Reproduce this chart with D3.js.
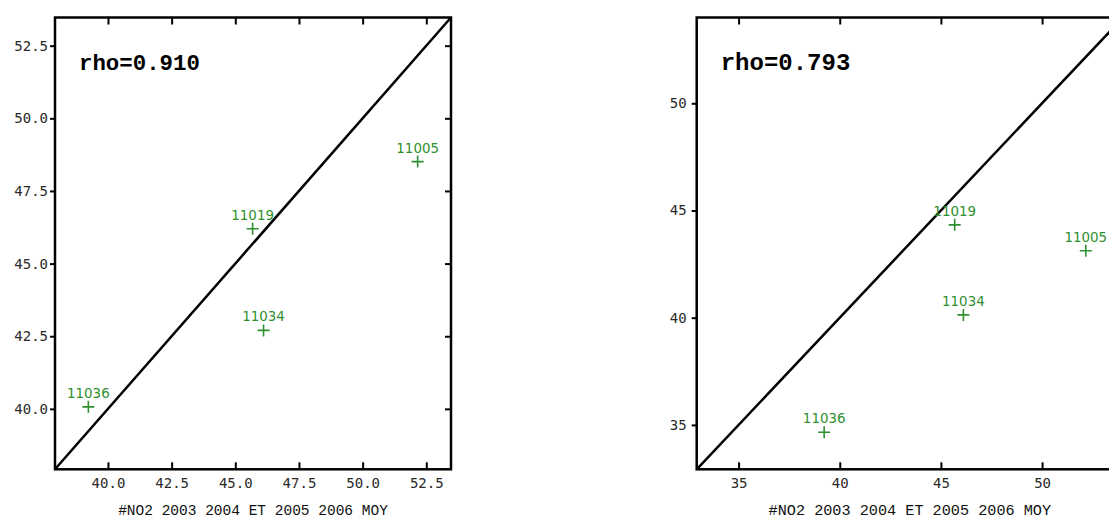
<!DOCTYPE html>
<html>
<head>
<meta charset="utf-8">
<script src="https://cdn.jsdelivr.net/npm/d3@7"></script>
<style>
  html, body { margin: 0; padding: 0; background: #fff; }
  svg { display: block; }
</style>
</head>
<body>
<svg id="chart" width="1109" height="520"></svg>
<script>
// ---- data ----
const stations = ["11036", "11034", "11019", "11005"];
const obsMean = [39.23, 46.11, 45.68, 52.16];          // x: #NO2 2003 2004 ET 2005 2006 MOY
const modelLeft = [40.07, 42.70, 46.20, 48.51];        // left panel y
const modelRight = [34.66, 40.13, 44.33, 43.12];       // right panel y
const rhoLabels = ["rho=0.910", "rho=0.793"];
const xTitle = "#NO2 2003 2004 ET 2005 2006 MOY";
const ticksLeft = [40, 42.5, 45, 47.5, 50, 52.5];
const ticksRight = [35, 40, 45, 50];
const domainLeft = [37.92, 53.47];
const domainRight = [32.93, 54.0];

const svg = d3.select("#chart");
const green = "#2f8f2f";

const panels = [
  { x0: 55, x1: 451, y0: 17.5, y1: 469.3, domain: domainLeft, ticks: ticksLeft, fmt: d3.format(".1f"),
    yv: modelLeft, rho: rhoLabels[0], rhoSize: 22.4, titleSize: 14.5, leftPad: 2 },
  { x0: 696.7, x1: 1123, y0: 17.5, y1: 469.3, domain: domainRight, ticks: ticksRight, fmt: d3.format("d"),
    yv: modelRight, rho: rhoLabels[1], rhoSize: 24, titleSize: 15.2, leftPad: 5 }
];

panels.forEach(p => {
  const x = d3.scaleLinear().domain(p.domain).range([p.x0, p.x1]);
  const y = d3.scaleLinear().domain(p.domain).range([p.y1, p.y0]);
  const g = svg.append("g");

  const styleAxis = sel => {
    sel.select(".domain").remove();
    sel.selectAll(".tick line").attr("stroke", "#000").attr("stroke-width", 2);
    sel.selectAll(".tick text")
      .attr("fill", "#2a2a2a")
      .style("font-family", "'DejaVu Sans Mono', monospace")
      .style("font-size", "14px");
  };

  // bottom axis (inward ticks, labels)
  g.append("g").attr("transform", `translate(0,${p.y1})`)
    .call(d3.axisBottom(x).tickValues(p.ticks).tickFormat(p.fmt).tickSize(-7).tickPadding(9))
    .call(styleAxis);
  // top axis (inward ticks, no labels)
  g.append("g").attr("transform", `translate(0,${p.y0})`)
    .call(d3.axisTop(x).tickValues(p.ticks).tickFormat("").tickSize(-7))
    .call(styleAxis);
  // left axis (outward ticks, labels)
  g.append("g").attr("transform", `translate(${p.x0},0)`)
    .call(d3.axisLeft(y).tickValues(p.ticks).tickFormat(p.fmt).tickSize(5).tickPadding(p.leftPad))
    .call(styleAxis);
  // right axis (inward ticks)
  g.append("g").attr("transform", `translate(${p.x1},0)`)
    .call(d3.axisRight(y).tickValues(p.ticks).tickFormat("").tickSize(-6))
    .call(styleAxis);

  // frame
  g.append("rect")
    .attr("x", p.x0).attr("y", p.y0)
    .attr("width", p.x1 - p.x0).attr("height", p.y1 - p.y0)
    .attr("fill", "none").attr("stroke", "#000").attr("stroke-width", 2.5);

  // 1:1 line
  g.append("line")
    .attr("x1", x(p.domain[0])).attr("y1", y(p.domain[0]))
    .attr("x2", x(p.domain[1])).attr("y2", y(p.domain[1]))
    .attr("stroke", "#000").attr("stroke-width", 2.5);

  // points
  const pts = stations.map((s, i) => ({ s, xv: obsMean[i], yv: p.yv[i] }));
  const pg = g.selectAll("g.pt").data(pts).enter().append("g")
    .attr("class", "pt")
    .attr("transform", d => `translate(${x(d.xv)},${y(d.yv)})`);
  pg.append("path")
    .attr("d", "M-6,0H6M0,-6V6")
    .attr("stroke", green).attr("stroke-width", 1.6).attr("fill", "none");
  pg.append("text")
    .attr("x", 0).attr("y", -9)
    .attr("text-anchor", "middle")
    .attr("fill", green)
    .style("font-family", "'DejaVu Sans', sans-serif")
    .style("font-size", "13.4px")
    .text(d => d.s);

  // rho text
  g.append("text")
    .attr("x", p.x0 + 24).attr("y", 70)
    .style("font-family", "'Liberation Mono', 'Courier New', monospace")
    .style("font-weight", "bold")
    .style("font-size", p.rhoSize + "px")
    .attr("fill", "#000")
    .text(p.rho);

  // x title
  g.append("text")
    .attr("x", (p.x0 + p.x1) / 2).attr("y", 515)
    .attr("text-anchor", "middle")
    .style("font-family", "'Liberation Mono', 'Courier New', monospace")
    .style("font-size", p.titleSize + "px")
    .attr("fill", "#111")
    .text(xTitle);
});
</script>
</body>
</html>
